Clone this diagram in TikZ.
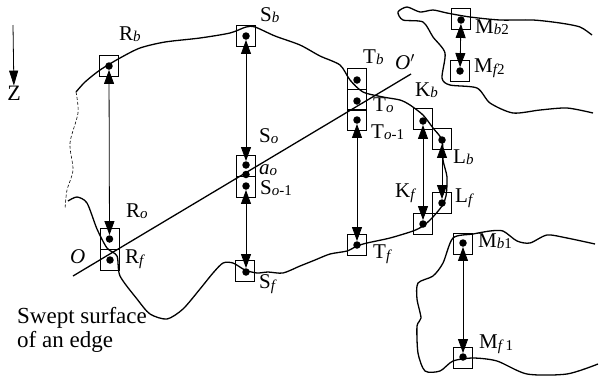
\documentclass[tikz,border=0pt]{standalone}
\usepackage{fontspec}
\setmainfont{Liberation Serif}
\usepackage{tikz}
\usetikzlibrary{arrows.meta}
\newcommand{\sbs}[1]{\raisebox{-1.5pt}{\fontsize{15}{15}\selectfont\itshape #1}}
\newcommand{\sbn}[1]{\raisebox{-1.5pt}{\fontsize{15}{15}\selectfont #1}}

\begin{document}
\begin{tikzpicture}[
  x=1pt, y=-1pt,
  font=\fontsize{21}{23}\selectfont,
  pbox/.style={draw, line width=0.9pt, minimum width=19pt, minimum height=21pt, inner sep=0pt},
  pdot/.style={circle, fill=black, minimum size=7.5pt, inner sep=0pt},
  lbl/.style={anchor=west, inner sep=0pt},
  arrow/.style={{Stealth[inset=0pt,length=14pt,width=10pt]}-{Stealth[inset=0pt,length=14pt,width=10pt]}, line width=0.8pt},
  outline/.style={line width=1.3pt, line join=round},
  rough/.style={line width=0.6pt, densely dashed}
]
\useasboundingbox (0,0) rectangle (599,376);

% boxes
\node[pbox] (boxRb) at (109,66) {};
\node[pbox] (boxSb) at (246,36) {};
\node[pbox] (boxSo) at (246,165.5) {};
\node[pbox] (boxSp) at (246,186.5) {};
\node[pbox] (boxRo) at (109.5,239) {};
\node[pbox] (boxRf) at (109.5,260) {};
\node[pbox] (boxSf) at (245,271) {};
\node[pbox] (boxTb) at (357,79) {};
\node[pbox] (boxTo) at (357,100) {};
\node[pbox] (boxTp) at (357,120) {};
\node[pbox] (boxTf) at (357,245) {};
\node[pbox] (boxKb) at (423,118.5) {};
\node[pbox] (boxLb) at (442,139) {};
\node[pbox] (boxLf) at (442,202.5) {};
\node[pbox] (boxKf) at (423,223.5) {};
\node[pbox] (boxMba) at (463,243.5) {};
\node[pbox] (boxMfa) at (463,357.5) {};
\node[pbox] (boxMbb) at (461,19) {};
\node[pbox] (boxMfb) at (460,71) {};

% points
\node[pdot] (Rb) at (109,66) {};
\node[pdot] (Sb) at (246,36) {};
\node[pdot] (So) at (246,165) {};
\node[pdot] (ao) at (246,174.5) {};
\node[pdot] (Sp) at (246,186) {};
\node[pdot] (Ro) at (109.5,239) {};
\node[pdot] (Rf) at (110,260) {};
\node[pdot] (Sf) at (246,272) {};
\node[pdot] (Tb) at (357,80) {};
\node[pdot] (To) at (357,101) {};
\node[pdot] (Tp) at (357,120) {};
\node[pdot] (Tf) at (357,245) {};
\node[pdot] (Kb) at (423,121) {};
\node[pdot] (Lb) at (442,140) {};
\node[pdot] (Lf) at (442,203) {};
\node[pdot] (Kf) at (423,224) {};
\node[pdot] (Mba) at (463,243) {};
\node[pdot] (Mfa) at (463,357) {};
\node[pdot] (Mbb) at (461,20) {};
\node[pdot] (Mfb) at (460,71) {};

% swept surface outline
\draw[outline] plot[smooth, tension=0.45] coordinates {(76,92) (85,82) (100,70) (120,58) (140,48) (165,42) (200,38) (230,33) (246,27) (255,27) (275,36) (300,45) (320,56) (340,65) (350,80) (363,92) (383,97) (400,100) (410,105) (423,115) (433,128) (442,140) (443,160) (447,177) (446,196) (442,206) (432,218) (423,226) (413,231) (390,238) (367,243) (357,246) (347,251) (330,254) (315,260) (300,266) (283,273) (268,272) (257,273) (245,270) (233,263) (223,263) (213,273) (200,289) (183,309) (167,319) (150,314) (137,299) (120,276) (117,256) (107,248) (97,229) (87,203) (77,197) (68,201)};
\draw[rough] plot[smooth, tension=0.5] coordinates {(76,92) (78,113) (70,143) (73,170) (67,190) (65,209)};

% upper and lower neighbours
\draw[outline] plot[smooth, tension=0.45] coordinates {(592,35) (580,27) (560,23) (533,20) (500,20) (470,17) (447,13) (433,10) (420,12) (407,7) (398,12) (403,20) (423,22) (433,37) (445,53) (442,78) (450,85) (477,88) (490,103) (513,113) (540,110) (567,108) (593,113)};
\draw[outline] plot[smooth, tension=0.45] coordinates {(595,244) (567,238) (547,235) (530,243) (517,241) (503,231) (490,231) (473,234) (453,238) (443,263) (433,276) (418,283) (417,299) (421,318) (417,326) (418,353) (425,371) (440,371) (453,361) (473,358) (497,361) (527,374) (567,374) (598,364)};

% cutting line
\coordinate (O1) at (73,276);
\coordinate (O2) at (411,74);
\draw[line width=1.3pt] (O1) -- (O2);

% rays
\draw[arrow] (Rb) -- (Ro);
\draw[arrow] (Sb) -- (So);
\draw[arrow] (Sp) -- (Sf);
\draw[arrow] (Tp) -- (Tf);
\draw[arrow] (Kb) -- (Kf);
\draw[arrow] (Lb) -- (Lf);
\draw[arrow] (Mba) -- (Mfa);
\draw[arrow] (Mbb) -- (Mfb);

% z direction
\coordinate (Ztop) at (13,25);
\node[inner sep=0pt, font=\fontsize{22}{24}\selectfont] (Z) at (14,93) {Z};
\draw[-{Stealth[inset=0pt,length=15pt,width=9pt]}, line width=0.8pt] (Ztop) -- (Z);

% labels
\node[lbl] (lRb) at (119,34) {R\sbs{b}};
\node[lbl] (lSb) at (260,15) {S\sbs{b}};
\node[lbl] (lSo) at (259,136) {S\sbs{o}};
\node[lbl] (lao) at (259,170) {\itshape a\sbs{o}};
\node[lbl] (lSp) at (260,188) {S\sbs{o}\sbn{-1}};
\node[lbl] (lRo) at (126,211) {R\sbs{o}};
\node[lbl] (lRf) at (125,259) {R\sbs{f}};
\node[lbl] (lSf) at (259,284) {S\sbs{f}};
\node[lbl] (lO) at (70,257) {\itshape O};
\node[lbl] (lOp) at (395,62) {\itshape O$'$};
\node[lbl] (lTb) at (363,57) {T\sbs{b}};
\node[lbl] (lTo) at (373,105) {T\sbs{o}};
\node[lbl] (lTp) at (371,132) {T\sbs{o}\sbn{-1}};
\node[lbl] (lTf) at (373,254) {T\sbs{f}};
\node[lbl] (lKb) at (415,90) {K\sbs{b}};
\node[lbl] (lKf) at (395,193) {K\sbs{f}};
\node[lbl] (lLb) at (453,157) {L\sbs{b}};
\node[lbl] (lLf) at (455,198) {L\sbs{f}};
\node[lbl] (lMbb) at (475,27) {M\sbs{b}\sbn{2}};
\node[lbl] (lMfb) at (474,68) {M\sbs{f}\sbn{2}};
\node[lbl] (lMba) at (478,241) {M\sbs{b}\sbn{1}};
\node[lbl] (lMfa) at (479,344) {M\sbs{f}\,\sbn{1}};
\node[lbl, align=left, font=\fontsize{23}{23.5}\selectfont] (swept) at (17,330) {Swept surface\\of an edge};
\end{tikzpicture}
\end{document}
